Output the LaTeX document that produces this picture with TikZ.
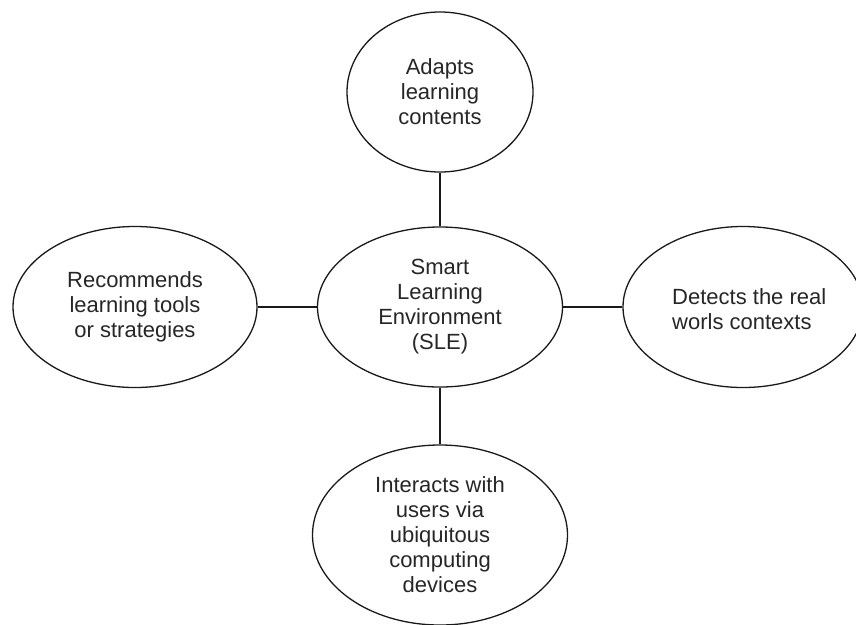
\documentclass[tikz,border=0pt]{standalone}
\usepackage{fontspec}
\setmainfont{Liberation Sans}
\usetikzlibrary{shapes.geometric}
\begin{document}
\begin{tikzpicture}[x=1pt,y=-1pt,
  bubble/.style={ellipse,draw=black!90,line width=1.3pt,inner sep=0pt,
    font=\fontsize{22}{25}\selectfont,text=black!85},
  link/.style={draw=black!90,line width=1.3pt}]
\useasboundingbox (0,0) rectangle (856,624);
\node[bubble,minimum width=186pt,minimum height=160pt,align=center] (top) at (440,92) {Adapts\\learning\\contents};
\node[bubble,minimum width=245pt,minimum height=160pt,align=center] (sle) at (440,307) {Smart\\Learning\\Environment\\(SLE)};
\node[bubble,minimum width=244pt,minimum height=161pt,align=center] (left) at (135,307) {Recommends\\learning tools\\or strategies};
\node[bubble,minimum width=240pt,minimum height=161pt] (right) at (743,307) {};
\node[font=\fontsize{22}{25}\selectfont,text=black!85,align=left,anchor=west,inner sep=0pt] (rtext) at (672,309) {Detects the real\\worls contexts};
\node[bubble,minimum width=255pt,minimum height=180pt,align=center] (bot) at (440,535) {Interacts with\\users via\\ubiquitous\\computing\\devices};
\draw[link] (top.south) -- (sle.north);
\draw[link] (left.east) -- (sle.west);
\draw[link] (sle.east) -- (right.west);
\draw[link] (sle.south) -- (bot.north);
\end{tikzpicture}
\end{document}
